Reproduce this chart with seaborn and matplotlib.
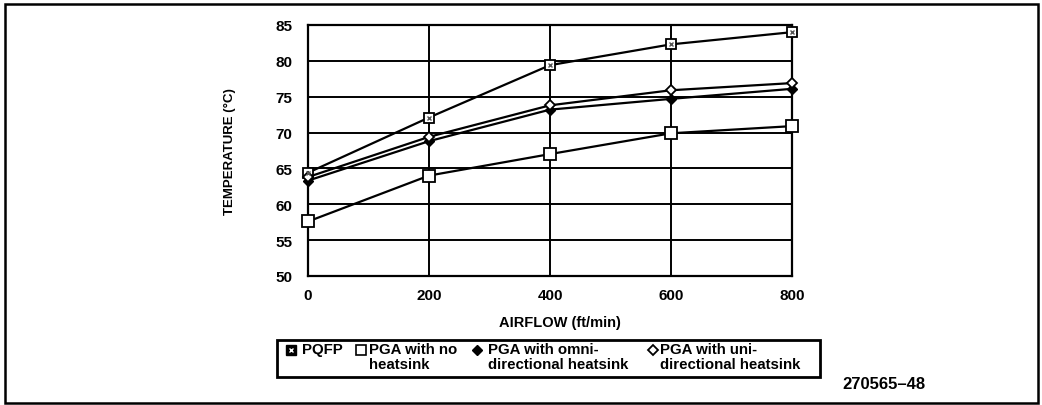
import pandas as pd
import matplotlib
matplotlib.use("Agg")
import matplotlib.pyplot as plt
import seaborn as sns
from matplotlib.lines import Line2D
from matplotlib.patches import Rectangle

# Données
airflow = [0, 200, 400, 600, 800]
pqfp = [64.4, 72.1, 79.4, 82.3, 84.0]
pga_none = [57.6, 64.0, 67.0, 69.9, 70.9]
pga_omni = [63.3, 68.8, 73.2, 74.7, 76.1]
pga_uni = [63.8, 69.4, 73.8, 75.9, 76.9]

series_names = ["PQFP", "PGA with no\nheatsink", "PGA with omni-\ndirectional heatsink",
                "PGA with uni-\ndirectional heatsink"]
yticks = [50, 55, 60, 65, 70, 75, 80, 85]

rows = []
for name, vals in zip(series_names, [pqfp, pga_none, pga_omni, pga_uni]):
    for x, y in zip(airflow, vals):
        rows.append({"airflow": x, "temp": y, "series": name})
df = pd.DataFrame(rows)

sns.set_theme(style="white")
plt.rcParams["font.family"] = ["Liberation Sans", "DejaVu Sans"]
plt.rcParams["font.weight"] = "bold"

fig = plt.figure(figsize=(10.42, 4.06), dpi=100)
ax = fig.add_axes([308 / 1042, 129 / 406, 484 / 1042, 251 / 406])

marker_style = {
    series_names[0]: dict(marker="s", markersize=7, markerfacecolor="white", markeredgewidth=1.3),
    series_names[1]: dict(marker="s", markersize=8, markerfacecolor="white", markeredgewidth=1.3),
    series_names[2]: dict(marker="D", markersize=5, markerfacecolor="black", markeredgewidth=1.0),
    series_names[3]: dict(marker="D", markersize=5.5, markerfacecolor="white", markeredgewidth=1.3),
}

for name in series_names:
    sub = df[df["series"] == name]
    sns.lineplot(data=sub, x="airflow", y="temp", ax=ax, color="black", linewidth=1.6,
                 markeredgecolor="black", clip_on=False, zorder=4, **marker_style[name])
# petit motif dans les carrés PQFP
sub = df[df["series"] == series_names[0]]
ax.plot(sub["airflow"], sub["temp"], linestyle="none", marker="x", markersize=3.5,
        color="#555555", markeredgewidth=1.0, clip_on=False, zorder=5)

ax.set_xlim(0, 800)
ax.set_ylim(50, 85)
ax.set_xticks(airflow)
ax.set_yticks(yticks)
ax.grid(True, color="black", linewidth=1.4)
ax.set_axisbelow(True)
for s in ax.spines.values():
    s.set_color("black")
    s.set_linewidth(1.6)
ax.tick_params(axis="both", length=0, labelsize=11, colors="black")
ax.tick_params(axis="y", pad=11)
ax.tick_params(axis="x", pad=9)
for lab in ax.get_xticklabels() + ax.get_yticklabels():
    lab.set_fontweight("bold")

ax.set_xlabel("AIRFLOW (ft/min)", fontsize=10.5, fontweight="bold", color="black")
ax.xaxis.set_label_coords(0.52, -0.155)
ax.set_ylabel("TEMPERATURE (°C)", fontsize=9.5, fontweight="bold", color="black")
ax.yaxis.set_label_coords(-0.149, 0.5)

# légende dessinée à la main dans un cadre
fig.add_artist(Rectangle((277 / 1042, 28 / 406), 543 / 1042, 37 / 406, transform=fig.transFigure,
                         fill=False, edgecolor="black", linewidth=2))
leg_marker_x = [291, 361, 477, 653]
leg_text_x = [302, 369, 488, 660]
leg_markers = [
    dict(marker="s", markersize=7, markerfacecolor="black", markeredgecolor="black"),
    dict(marker="s", markersize=7, markerfacecolor="white", markeredgecolor="black", markeredgewidth=1.2),
    dict(marker="D", markersize=5, markerfacecolor="black", markeredgecolor="black"),
    dict(marker="D", markersize=5, markerfacecolor="white", markeredgecolor="black", markeredgewidth=1.3),
]
for mx, tx, name, mk in zip(leg_marker_x, leg_text_x, series_names, leg_markers):
    fig.add_artist(Line2D([mx / 1042], [(406 - 351) / 406], transform=fig.transFigure,
                          linestyle="none", **mk))
    fig.text(tx / 1042, (406 - 343) / 406, name, ha="left", va="top", fontsize=10.8,
             fontweight="bold", linespacing=1.1, color="black")
fig.add_artist(Line2D([291 / 1042], [(406 - 351) / 406], transform=fig.transFigure,
                      linestyle="none", marker="x", markersize=3.5, markeredgecolor="white",
                      markeredgewidth=1.0))

fig.text(842 / 1042, (406 - 385) / 406, "270565–48", ha="left", va="center", fontsize=12,
         fontweight="bold", color="black")

# cadre extérieur
fig.add_artist(Rectangle((5 / 1042, 2 / 406), 1033 / 1042, 399 / 406, transform=fig.transFigure,
                         fill=False, edgecolor="black", linewidth=1.8))

fig.savefig("out.png", dpi=100)
